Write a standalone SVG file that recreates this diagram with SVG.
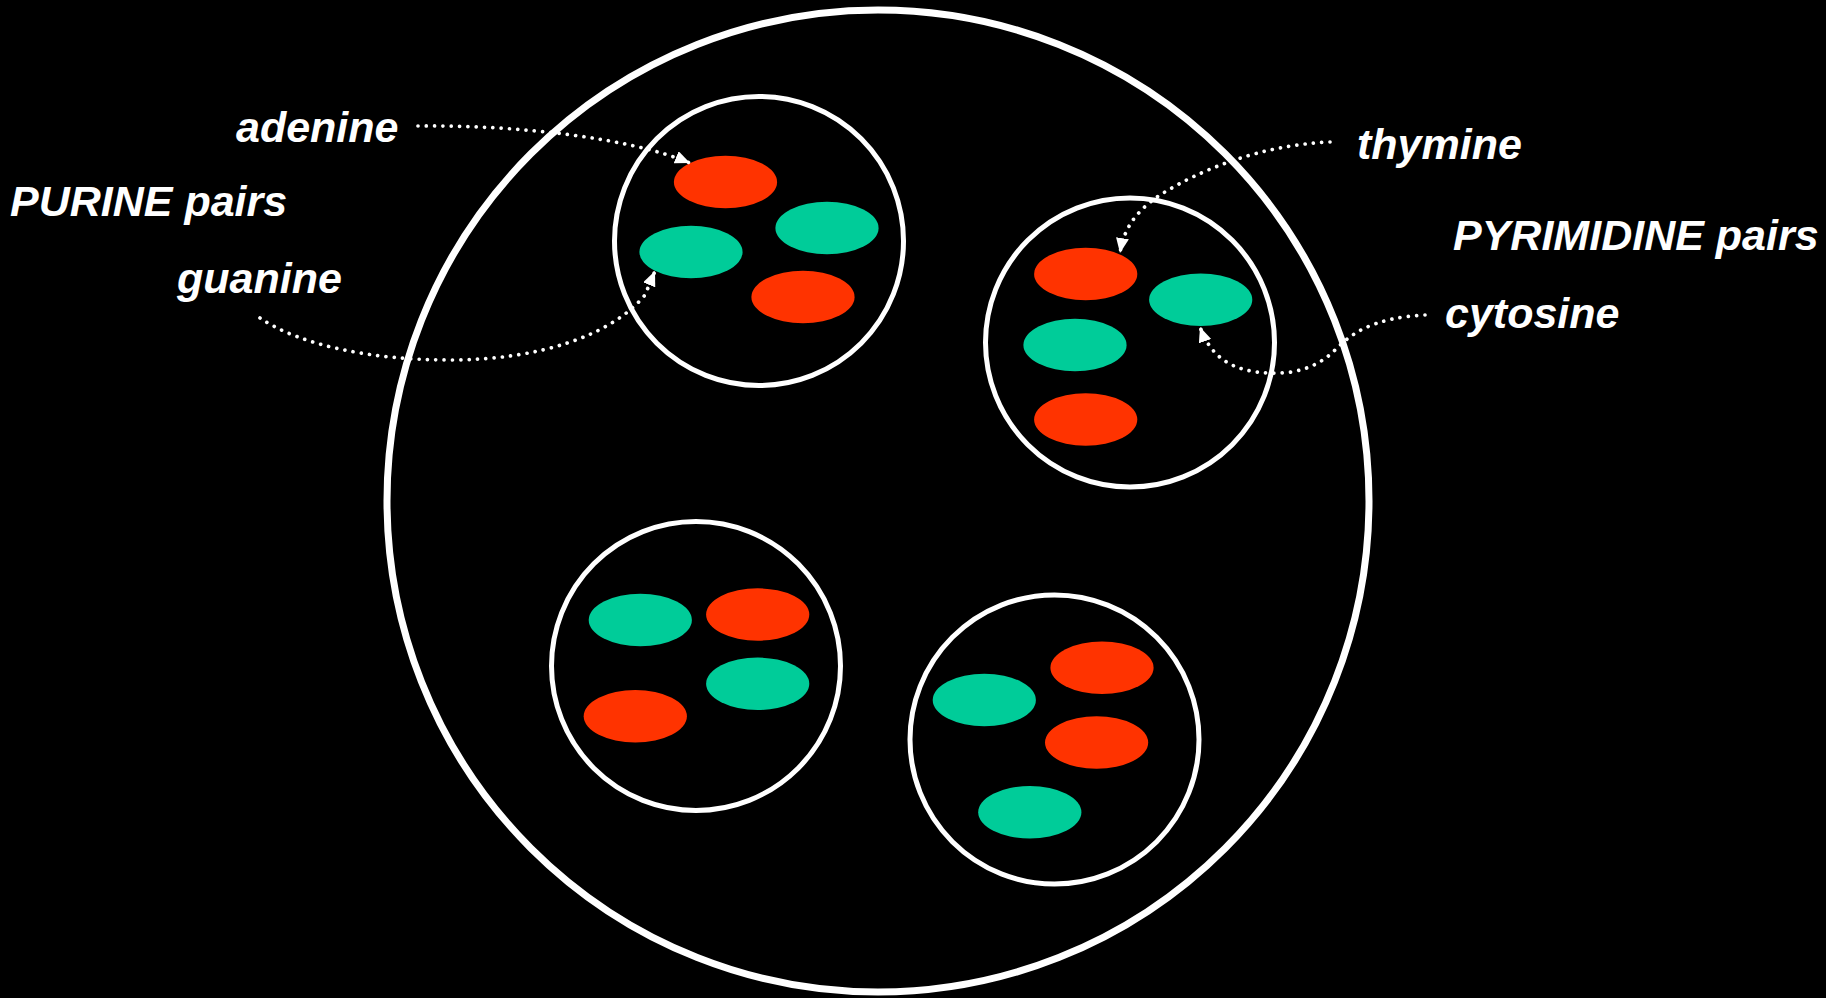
<svg xmlns="http://www.w3.org/2000/svg" width="1826" height="998" viewBox="0 0 1826 998">
<defs>
<style>
.bg{fill:#000}
.outer{fill:none;stroke:#fff;stroke-width:7}
.inner{fill:none;stroke:#fff;stroke-width:5}
.r{fill:#FF3300}
.g{fill:#00CC99}
.lbl{font-family:"Liberation Sans",Arial,sans-serif;font-weight:bold;font-style:italic;font-size:43px;fill:#fff}
.conn{fill:none;stroke:#fff;stroke-width:3.7;stroke-linecap:round;stroke-dasharray:0.01 8.3}
</style>
<marker id="arr" markerUnits="userSpaceOnUse" markerWidth="16" markerHeight="14" refX="15" refY="6.5" orient="auto" viewBox="0 0 16 14">
<path d="M0,0 L15,6.5 L0,13 z" fill="#fff"/>
</marker>
</defs>
<rect class="bg" x="0" y="0" width="1826" height="998"/>
<g id="cell">
<circle class="outer" cx="878" cy="501" r="491"/>
</g>
<g id="purine-group">
<circle class="inner" cx="759" cy="241" r="144.5"/>
<ellipse class="r" cx="725.5" cy="182" rx="51.6" ry="26.2"/>
<ellipse class="g" cx="827" cy="228" rx="51.6" ry="26.2"/>
<ellipse class="g" cx="691" cy="252" rx="51.6" ry="26.2"/>
<ellipse class="r" cx="803" cy="297" rx="51.6" ry="26.2"/>
</g>
<g id="pyrimidine-group">
<circle class="inner" cx="1130" cy="342.5" r="144.5"/>
<ellipse class="r" cx="1085.7" cy="274" rx="51.6" ry="26.2"/>
<ellipse class="g" cx="1200.7" cy="299.7" rx="51.6" ry="26.2"/>
<ellipse class="g" cx="1075" cy="345" rx="51.6" ry="26.2"/>
<ellipse class="r" cx="1085.7" cy="419.5" rx="51.6" ry="26.2"/>
</g>
<g id="group-bottom-left">
<circle class="inner" cx="696" cy="666" r="144.5"/>
<ellipse class="g" cx="640.3" cy="620" rx="51.6" ry="26.2"/>
<ellipse class="r" cx="757.7" cy="614.5" rx="51.6" ry="26.2"/>
<ellipse class="g" cx="757.7" cy="683.8" rx="51.6" ry="26.2"/>
<ellipse class="r" cx="635.3" cy="716.2" rx="51.6" ry="26.2"/>
</g>
<g id="group-bottom-right">
<circle class="inner" cx="1054.5" cy="739.5" r="144.5"/>
<ellipse class="r" cx="1102" cy="667.8" rx="51.6" ry="26.2"/>
<ellipse class="g" cx="984.3" cy="700" rx="51.6" ry="26.2"/>
<ellipse class="r" cx="1096.6" cy="742.5" rx="51.6" ry="26.2"/>
<ellipse class="g" cx="1029.8" cy="812.2" rx="51.6" ry="26.2"/>
</g>
<g id="connectors">
<path class="conn" d="M418,126 C520,125 630,138 690,163" marker-end="url(#arr)"/>
<path class="conn" d="M260,318 C300,345 370,360 450,360 C540,360 612,335 645,295 L655,271" marker-end="url(#arr)"/>
<path class="conn" d="M1330,142 C1260,145 1200,170 1160,195 C1130,215 1123,235 1120,253" marker-end="url(#arr)"/>
<path class="conn" d="M1425,315 C1370,318 1350,335 1335,350 C1315,370 1290,374 1270,373 C1230,372 1210,355 1200,327" marker-end="url(#arr)"/>
</g>
<g id="labels">
<text id="adenine" class="lbl" x="236" y="142">adenine</text>
<text id="purine-pairs" class="lbl" x="10" y="216">PURINE pairs</text>
<text id="guanine" class="lbl" x="177" y="293">guanine</text>
<text id="thymine" class="lbl" x="1357" y="159">thymine</text>
<text id="pyrimidine-pairs" class="lbl" x="1453" y="250">PYRIMIDINE pairs</text>
<text id="cytosine" class="lbl" x="1445" y="328">cytosine</text>
</g>
</svg>
